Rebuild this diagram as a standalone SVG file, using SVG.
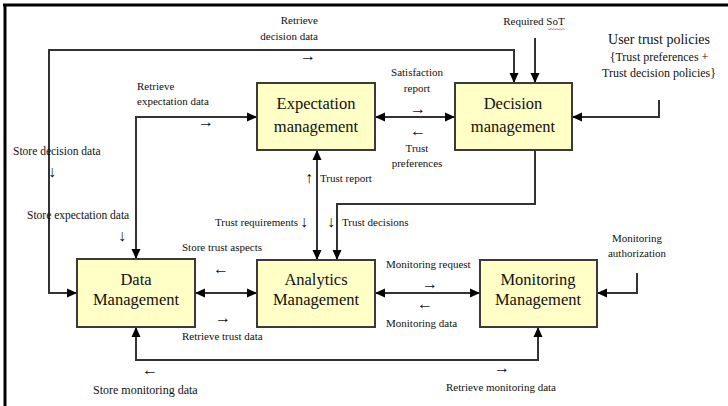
<svg xmlns="http://www.w3.org/2000/svg" width="728" height="406" viewBox="0 0 728 406">
<style>
.box{fill:#FFFFC6;stroke:#3a3a3a;stroke-width:2}
.bt{font-size:16.5px;fill:#111;text-anchor:middle}
.lb{font-size:11px;fill:#111}
.c{text-anchor:middle}
.r{text-anchor:end}
.ar{font-size:16px;fill:#111}
.ln{fill:none;stroke:#333;stroke-width:2}
</style>
<defs>
<marker id="ah" markerUnits="userSpaceOnUse" markerWidth="11" markerHeight="10" refX="10" refY="5" orient="auto-start-reverse" viewBox="0 0 11 10">
<path d="M0,0.5 L10,5 L0,9.5 z" fill="#000"/>
</marker>
</defs>
<rect width="728" height="406" fill="#fff"/>
<g id="frame">
<line x1="3" y1="5" x2="728" y2="5" stroke="#000" stroke-width="3"/>
<line x1="5" y1="4" x2="5" y2="406" stroke="#000" stroke-width="3"/>
</g>
<g id="connectors">
<path class="ln" d="M77,293 L49,293 L49,50 L514,50 L514,83" marker-start="url(#ah)" marker-end="url(#ah)"/>
<path class="ln" d="M136,259 L136,117 L257,117" marker-start="url(#ah)" marker-end="url(#ah)"/>
<path class="ln" d="M535,38 L535,83" marker-end="url(#ah)"/>
<path class="ln" d="M375,117 L455,117" marker-start="url(#ah)" marker-end="url(#ah)"/>
<path class="ln" d="M659,100 L659,117 L572,117" marker-end="url(#ah)"/>
<path class="ln" d="M317,150 L317,260" marker-start="url(#ah)" marker-end="url(#ah)"/>
<path class="ln" d="M535,150 L535,204 L337,204 L337,260" marker-end="url(#ah)"/>
<path class="ln" d="M195,293 L257,293" marker-start="url(#ah)" marker-end="url(#ah)"/>
<path class="ln" d="M375,293 L480,293" marker-start="url(#ah)" marker-end="url(#ah)"/>
<path class="ln" d="M637,273 L637,293 L597,293" marker-end="url(#ah)"/>
<path class="ln" d="M136,327 L136,360 L538,360 L538,327" marker-start="url(#ah)" marker-end="url(#ah)"/>
</g>
<g font-family="'Liberation Serif', 'Times New Roman', Tinos, 'DejaVu Serif', serif">
<g id="expectation">
<rect class="box" x="257" y="83" width="118" height="67"/>
<text class="bt" x="316" y="109">Expectation</text>
<text class="bt" x="316" y="132">management</text>
</g>
<g id="decision">
<rect class="box" x="455" y="83" width="117" height="67"/>
<text class="bt" x="513" y="109">Decision</text>
<text class="bt" x="513" y="132">management</text>
</g>
<g id="data">
<rect class="box" x="77" y="259" width="118" height="68"/>
<text class="bt" x="136" y="285">Data</text>
<text class="bt" x="136" y="305">Management</text>
</g>
<g id="analytics">
<rect class="box" x="257" y="260" width="118" height="67"/>
<text class="bt" x="316" y="285">Analytics</text>
<text class="bt" x="316" y="305">Management</text>
</g>
<g id="monitoring">
<rect class="box" x="480" y="260" width="117" height="67"/>
<text class="bt" x="538" y="285">Monitoring</text>
<text class="bt" x="538" y="305">Management</text>
</g>
<g id="labels">
<text class="lb r" x="318" y="24">Retrieve</text>
<text class="lb r" x="318" y="40">decision data</text>
<text class="ar" x="300" y="61">→</text>
<text class="lb" x="137" y="90">Retrieve</text>
<text class="lb" x="137" y="105">expectation data</text>
<text class="ar" x="198" y="127">→</text>
<text class="lb c" x="417" y="76">Satisfaction</text>
<text class="lb c" x="417" y="92">report</text>
<text class="ar c" x="418" y="114">→</text>
<text class="ar c" x="418" y="136">←</text>
<text class="lb c" x="417" y="152">Trust</text>
<text class="lb c" x="417" y="167">preferences</text>
<text class="lb c" x="534" y="25">Required SoT</text>
<path d="M548,28.5 l1.5,1.5 l1.5,-1.5 l1.5,1.5 l1.5,-1.5 l1.5,1.5 l1.5,-1.5 l1.5,1.5 l1.5,-1.5 l1.5,1.5 l1.5,-1.5 l1.5,1.5" fill="none" stroke="#e03030" stroke-width="0.7"/>
<text class="lb c" x="659" y="44" style="font-size:14px">User trust policies</text>
<text class="lb c" x="659" y="61" style="font-size:12px">{Trust preferences +</text>
<text class="lb c" x="659" y="77" style="font-size:12px">Trust decision policies}</text>
<text class="lb" x="13" y="155" style="font-size:11.5px">Store decision data</text>
<text class="ar" x="48" y="177">↓</text>
<text class="lb" x="27" y="219" style="font-size:11.5px">Store expectation data</text>
<text class="ar" x="118" y="241">↓</text>
<text class="lb r" x="298" y="226">Trust requirements</text>
<text class="ar" x="300" y="227" fill="#8a4a10">↓</text>
<text class="ar" x="305" y="183" fill="#2a64a8">↑</text>
<text class="lb" x="320" y="182">Trust report</text>
<text class="ar" x="327" y="227" fill="#8a4a10">↓</text>
<text class="lb" x="342" y="226">Trust decisions</text>
<text class="lb" x="182" y="251">Store trust aspects</text>
<text class="ar" x="213" y="274">←</text>
<text class="ar" x="215" y="323">→</text>
<text class="lb" x="182" y="340">Retrieve trust data</text>
<text class="lb" x="386" y="268">Monitoring request</text>
<text class="ar" x="422" y="289">→</text>
<text class="ar" x="417" y="309">←</text>
<text class="lb" x="386" y="327">Monitoring data</text>
<text class="lb c" x="637" y="242">Monitoring</text>
<text class="lb c" x="637" y="257">authorization</text>
<text class="ar" x="142" y="375">←</text>
<text class="lb" x="93" y="394" style="font-size:12px">Store monitoring data</text>
<text class="ar" x="494" y="373">→</text>
<text class="lb" x="446" y="391">Retrieve monitoring data</text>
</g>
</g>
</svg>
